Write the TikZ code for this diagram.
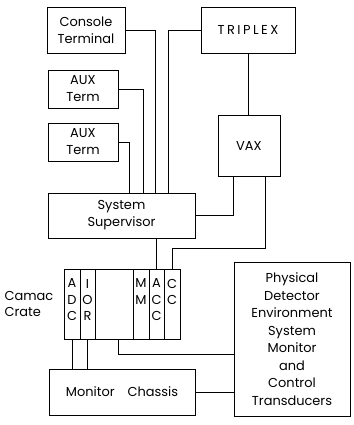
\documentclass[tikz,border=0pt]{standalone}
\usepackage{fontspec}
\setmainfont{Poppins}
\begin{document}
\begin{tikzpicture}[x=1bp,y=-1bp,
  line width=0.8bp,
  box/.style={draw, rectangle, inner sep=0pt, align=center,
    font=\fontsize{13}{17}\selectfont},
  col/.style={draw, rectangle, inner sep=0pt, minimum height=70bp},
  colt/.style={anchor=north, inner sep=0pt, align=center,
    font=\fontsize{13}{16.5}\selectfont},
  lbl/.style={inner sep=0pt, align=left, font=\fontsize{13}{17}\selectfont}]
\useasboundingbox (0,0) rectangle (354,425);
% boxes
\node[box, minimum width=78bp, minimum height=46bp] (console) at (86,30) {Console\\Terminal};
\node[box, minimum width=70bp, minimum height=38bp] (aux1) at (83,89) {AUX\\Term};
\node[box, minimum width=70bp, minimum height=38bp] (aux2) at (83,142) {AUX\\Term};
\node[box, minimum width=147bp, minimum height=45bp] (sup) at (121.5,215.5) {System\\Supervisor};
\node[box, minimum width=94bp, minimum height=46bp] (triplex) at (248,30) {T\kern2.5pt R\kern2.5pt I\kern2.5pt P\kern2.5pt L\kern2.5pt E\kern2.5pt X};
\node[box, minimum width=62bp, minimum height=61bp] (vax) at (249,145.5) {VAX};
\node[box, minimum width=146bp, minimum height=46bp] (mon) at (122,392) {Monitor\quad Chassis};
\node[box, minimum width=116bp, minimum height=154bp, font=\fontsize{13}{17.6}\selectfont] (phys) at (292,339)
  {Physical\\Detector\\Environment\\System\\Monitor\\and\\Control\\Transducers};
% crate
\node[col, minimum width=16bp] (adc) at (72,304) {};
\node[col, minimum width=15bp] (ior) at (87.5,304) {};
\node[col, minimum width=38bp] (blank) at (114,304) {};
\node[col, minimum width=16bp] (mm) at (141,304) {};
\node[col, minimum width=15bp] (acc) at (156.5,304) {};
\node[col, minimum width=16bp] (cc) at (172,304) {};
\node[colt] (adct) at ([yshift=-10bp]adc.north) {A\\D\\C};
\node[colt] (iort) at ([yshift=-10bp]ior.north) {I\\O\\R};
\node[colt] (mmt) at ([yshift=-10bp]mm.north) {M\\M};
\node[colt] (acct) at ([yshift=-10bp]acc.north) {A\\C\\C};
\node[colt] (cct) at ([yshift=-10bp]cc.north) {C\\C};
\node[lbl] (camac) at (29,304) {Camac\\Crate};
% drop coordinates
\coordinate (x1) at (155,0);
\coordinate (x2) at (143,0);
\coordinate (x3) at (129,0);
\coordinate (x4) at (168,0);
\coordinate (v1) at (233,0);
\coordinate (j) at (265,248);
\coordinate (b1) at (118,354);
% connectors
\draw (console.east) -| (x1 |- sup.north);
\draw (aux1.east) -| (x2 |- sup.north);
\draw (aux2.east) -| (x3 |- sup.north);
\draw (triplex.west) -| (x4 |- sup.north);
\draw (triplex.south) -- (triplex.south |- vax.north);
\draw (v1 |- vax.south) |- (sup.east);
\draw (j |- vax.south) -- (j) -| (cc.north);
\draw (sup.south -| acc.north) -- (acc.north);
\draw (adc.south) -- (adc.south |- mon.north);
\draw (ior.south) -- (ior.south |- mon.north);
\draw (b1 |- blank.south) |- (b1 -| phys.west);
\draw (mon.east) -- (mon.east -| phys.west);
\end{tikzpicture}
\end{document}
